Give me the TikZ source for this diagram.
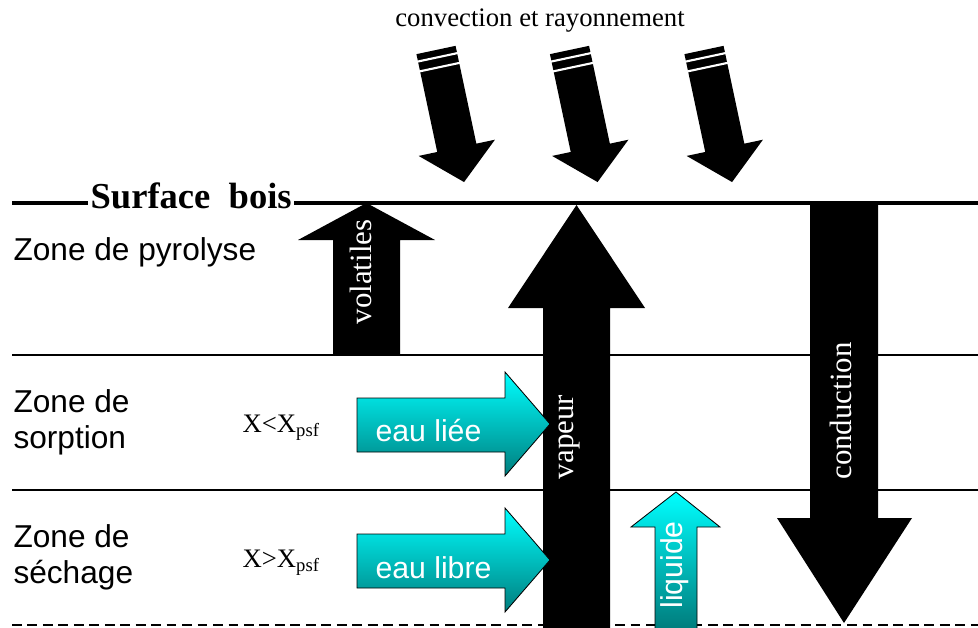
\documentclass[tikz,border=0pt]{standalone}
\usepackage{fontspec}
\setmainfont{Liberation Serif}
\setsansfont{Liberation Sans}
\definecolor{eauhaut}{RGB}{0,255,255}
\definecolor{eaubas}{RGB}{0,125,125}

\tikzset{every picture/.style={line width=0.75pt}}
\tikzset{
    zoneline/.style={line width=1.3pt},
    bloc/.style={fill=black},
    eau/.style={draw=black, line width=0.6pt, top color=eauhaut, bottom color=eaubas},
    zonetxt/.style={font=\sffamily\fontsize{22.5}{25.5}\selectfont, anchor=base west, align=left, inner sep=0pt},
    fluxtxt/.style={font=\fontsize{22}{24}\selectfont, text=white, rotate=90, inner sep=0pt},
    eautxt/.style={font=\sffamily\fontsize{21.5}{24}\selectfont, text=white, anchor=base west, inner sep=0pt},
    teneur/.style={font=\fontsize{19}{22}\selectfont, anchor=base west, inner sep=0pt},
}

\begin{document}
\begin{tikzpicture}[x=0.25mm, y=-0.25mm]
    \useasboundingbox (0,0) rectangle (978,628);
    % surface et limites des zones
    \node[font=\bfseries\fontsize{26}{28}\selectfont, anchor=base west, inner sep=1.5pt] (surface) at (88,208) {Surface\ \ bois};
    \coordinate (surfG) at (12,203);
    \coordinate (surfD) at (978,203);
    \draw[line width=3.5pt] (surfG) -- (surfG -| surface.west);
    \draw[line width=3.5pt] (surfD -| surface.east) -- (surfD);
    \draw[zoneline] (12,355) -- (978,355);
    \draw[zoneline] (12,490) -- (978,490);
    \draw[line width=1.6pt, dash pattern=on 7pt off 4pt] (12,625) -- (978,625);

    % convection et rayonnement
    \node[font=\fontsize{19}{22}\selectfont, anchor=base] (convection) at (540,26) {convection et rayonnement};
    \foreach \x in {436,569.5,704} {
        \begin{scope}[shift={(\x,50)}, rotate=12]
            \fill (-20,0) -- (20,0) -- (20,100) -- (39,100) -- (0,135) -- (-39,100) -- (-20,100) -- cycle;
            \draw[white, line width=1.5pt] (-21,7.5) -- (21,7.5);
            \draw[white, line width=1.5pt] (-21,17.5) -- (21,17.5);
        \end{scope}
    }

    % flux dans le bois
    \fill[bloc] (333,355) -- (333,240) -- (298,240) -- (366.5,203) -- (435,240) -- (400,240) -- (400,355) -- cycle;
    \node[fluxtxt] (volatiles) at (361,272) {volatiles};
    \fill[bloc] (543,628) -- (543,308) -- (508,308) -- (576.5,205) -- (645,308) -- (610,308) -- (610,628) -- cycle;
    \node[fluxtxt] (vapeur) at (570,437) {vapeur};
    \fill[bloc] (810,205) -- (810,518) -- (777,518) -- (844,623) -- (912,518) -- (878,518) -- (878,205) -- cycle;
    \node[fluxtxt] (conduction) at (841,411) {conduction};

    \draw[eau] (357,398) -- (505,398) -- (505,372) -- (550,424) -- (505,476) -- (505,452) -- (357,452) -- cycle;
    \node[eautxt] (eaulie) at (375,441) {eau liée};
    \draw[eau] (357,534) -- (505,534) -- (505,508) -- (550,560) -- (505,612) -- (505,588) -- (357,588) -- cycle;
    \node[eautxt] (eaulibre) at (375,578) {eau libre};
    \draw[eau] (655,628) -- (655,527) -- (631,527) -- (676,492) -- (720,527) -- (697,527) -- (697,628);
    \node[fluxtxt, font=\sffamily\fontsize{21.5}{24}\selectfont] (liquide) at (675,565) {liquide};

    % zones
    \node[zonetxt] (pyrolyse) at (13,260) {Zone de pyrolyse};
    \node[zonetxt] (sorption) at (13,448) {Zone de\\sorption};
    \node[zonetxt] (sechage) at (13,583) {Zone de\\séchage};
    \node[teneur] (teneurlie) at (242,432) {X<X\textsubscript{psf}};
    \node[teneur] (teneurlibre) at (242,567) {X>X\textsubscript{psf}};
\end{tikzpicture}
\end{document}
